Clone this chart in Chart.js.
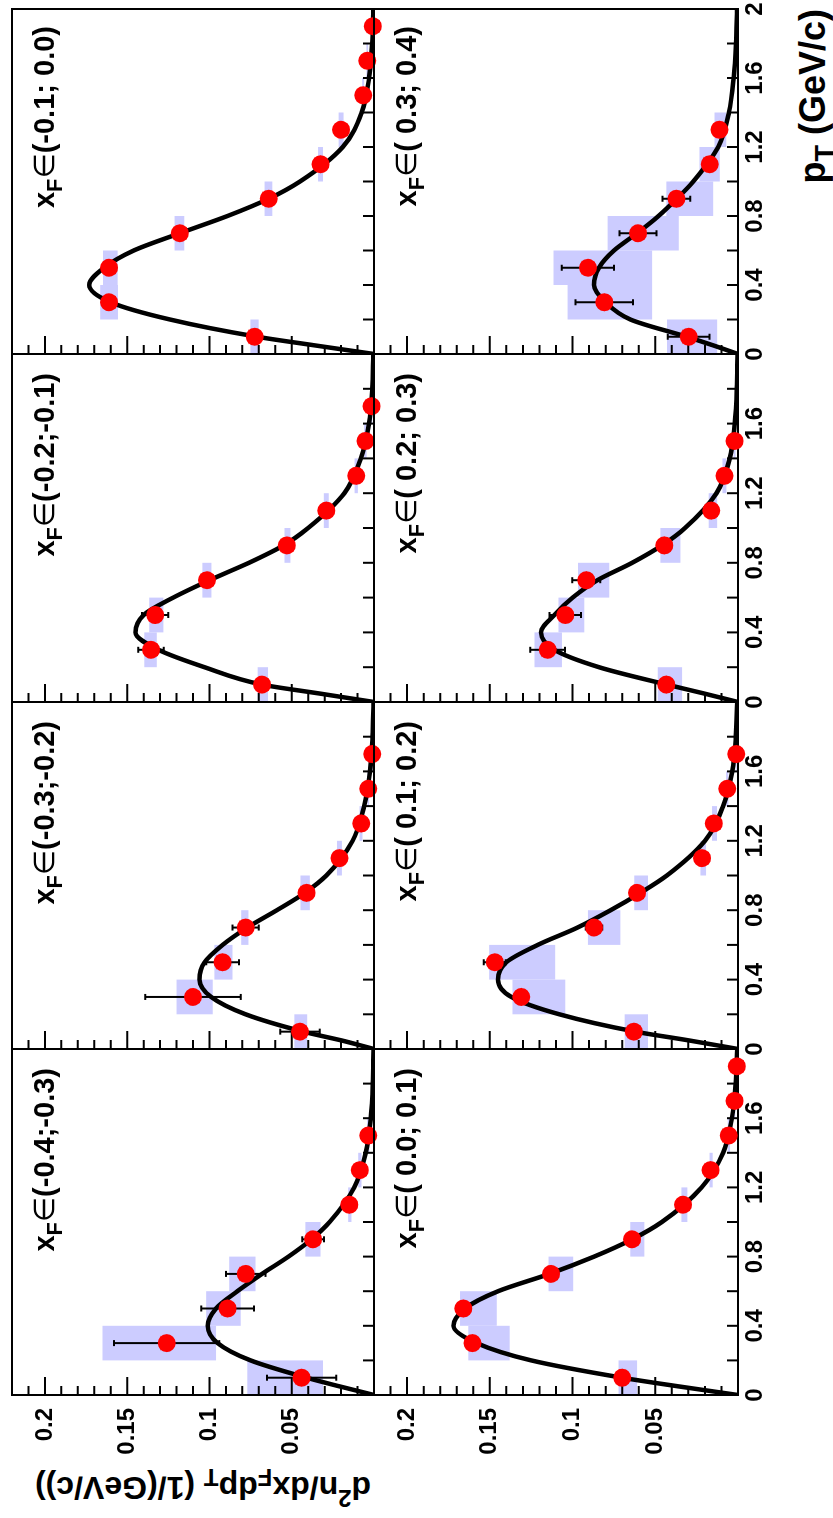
<!DOCTYPE html>
<html>
<head>
<meta charset="utf-8">
<script src="https://cdn.jsdelivr.net/npm/chart.js@4.4.0/dist/chart.umd.min.js"></script>
<style>
  html, body { margin: 0; padding: 0; background: #fff; }
  body { width: 833px; height: 1518px; overflow: hidden; position: relative; }
  /* the figure is laid out landscape and turned a quarter turn */
  #fig { position: absolute; left: 0; top: 0; width: 1518px; height: 833px;
         transform-origin: 0 0; transform: translate(0, 1518px) rotate(-90deg);
         font-family: "Liberation Sans", Arial, sans-serif; font-weight: bold; color: #000; }
  #fig canvas { position: absolute; left: 0; top: 0; }
  .lbl { position: absolute; white-space: pre; font-size: 29px; line-height: 29px; text-align: right; }
  .sym { font-weight: normal; font-family: "DejaVu Sans", sans-serif; }
  sub, sup { font-size: 0.75em; line-height: 0; }
  sub { vertical-align: -0.35em; }
  sup { vertical-align: 0.55em; }
  #ytitle { position: absolute; left: 14px; top: 375px; width: 340px; text-align: right;
            font-size: 32px; line-height: 32px; white-space: nowrap;
            transform-origin: 0 0; transform: rotate(-90deg); }
  #xtitle { position: absolute; right: 9px; top: 795px; font-size: 36px; line-height: 36px; white-space: nowrap; }
</style>
</head>
<body>
<div id="fig">
  <div id="ytitle">d<sup>2</sup>n/dx<sub>F</sub>dp<sub>T</sub> (1/(GeV/c))</div>
  <div id="xtitle">p<sub>T</sub> (GeV/c)</div>
</div>
<script>
// bins and tick labels
const ptCenters = [0.1, 0.3, 0.5, 0.7, 0.9, 1.1, 1.3, 1.5, 1.7, 1.9];
const ptBinHalf = 0.1;
const fitPt = [0, 0.05, 0.1, 0.2, 0.3, 0.4, 0.5, 0.6, 0.7, 0.8, 0.9, 1.0, 1.2, 1.4, 1.6, 1.8, 2.0];
const xfBins = ["(-0.4;-0.3)", "(-0.3;-0.2)", "(-0.2;-0.1)", "(-0.1; 0.0)",
                "( 0.0; 0.1)", "( 0.1; 0.2)", "( 0.2; 0.3)", "( 0.3; 0.4)"];
const ptTickLabels = [0, 0.4, 0.8, 1.2, 1.6];
const ptTickLabelsLast = [0, 0.4, 0.8, 1.2, 1.6, 2];
const valTickLabels = [0.05, 0.1, 0.15, 0.2];

// x_F (-0.4;-0.3)
const val1 = [0.044, 0.126, 0.089, 0.078, 0.037, 0.015, 0.0086, 0.0035];
const stat1 = [0.021, 0.032, 0.016, 0.012, 0.0066, 0.002, 0.0015, 0.001];
const sysLo1 = [0.031, 0.096, 0.081, 0.072, 0.0325, 0.0137, 0.0076, 0.0028];
const sysHi1 = [0.077, 0.165, 0.102, 0.088, 0.0417, 0.0157, 0.0096, 0.0042];
const fit1 = [0, 0.021, 0.041, 0.075, 0.095, 0.101, 0.096, 0.083, 0.068, 0.052, 0.038, 0.027, 0.012, 0.005, 0.002, 0.0007, 0.0003];

// x_F (-0.3;-0.2)
const val2 = [0.045, 0.110, 0.092, 0.078, 0.041, 0.021, 0.0078, 0.0035, 0.0011];
const stat2 = [0.012, 0.029, 0.010, 0.008, 0.003, 0.0015, 0.001, 0.001, 0.0005];
const sysLo2 = [0.0406, 0.098, 0.086, 0.0763, 0.039, 0.0195, 0.007, 0.003, 0.0008];
const sysHi2 = [0.0484, 0.120, 0.097, 0.0807, 0.0447, 0.0225, 0.0088, 0.004, 0.0014];
const fit2 = [0, 0.02, 0.043, 0.078, 0.099, 0.106, 0.103, 0.092, 0.077, 0.059, 0.042, 0.029, 0.013, 0.006, 0.0024, 0.0009, 0.0003];

// x_F (-0.2;-0.1)
const val3 = [0.068, 0.1355, 0.133, 0.1015, 0.053, 0.029, 0.0108, 0.0052, 0.0015];
const stat3 = [0.003, 0.0077, 0.008, 0.003, 0.002, 0.0015, 0.001, 0.001, 0.0005];
const sysLo3 = [0.0644, 0.132, 0.128, 0.0988, 0.0508, 0.0275, 0.0098, 0.0045, 0.0011];
const sysHi3 = [0.0707, 0.1396, 0.1366, 0.1043, 0.0544, 0.0305, 0.0118, 0.006, 0.0019];
const fit3 = [0, 0.034, 0.068, 0.103, 0.131, 0.145, 0.140, 0.122, 0.100, 0.076, 0.055, 0.040, 0.018, 0.008, 0.003, 0.001, 0.0004];

// x_F (-0.1; 0.0)
const val4 = [0.0725, 0.161, 0.161, 0.118, 0.064, 0.0325, 0.020, 0.0066, 0.0041, 0.0007];
const stat4 = [0.002, 0.003, 0.003, 0.002, 0.002, 0.001, 0.001, 0.001, 0.0005, 0.0003];
const sysLo4 = [0.0701, 0.1556, 0.1558, 0.1153, 0.0618, 0.031, 0.0185, 0.006, 0.0036, 0.0004];
const sysHi4 = [0.0751, 0.1664, 0.1647, 0.1212, 0.0665, 0.034, 0.0215, 0.0072, 0.0046, 0.001];
const fit4 = [0, 0.036, 0.071, 0.124, 0.160, 0.173, 0.164, 0.146, 0.118, 0.089, 0.064, 0.045, 0.019, 0.0075, 0.003, 0.0011, 0.0004];

// x_F ( 0.0; 0.1)
const val5 = [0.070, 0.1605, 0.166, 0.113, 0.064, 0.0332, 0.0166, 0.0056, 0.0021, 0.0007];
const stat5 = [0.002, 0.003, 0.003, 0.002, 0.002, 0.001, 0.001, 0.0005, 0.0005, 0.0003];
const sysLo5 = [0.061, 0.138, 0.1458, 0.0996, 0.0566, 0.0306, 0.0153, 0.0048, 0.0017, 0.0004];
const sysHi5 = [0.0722, 0.163, 0.168, 0.1145, 0.0651, 0.0342, 0.0172, 0.0062, 0.0025, 0.001];
const fit5 = [0, 0.036, 0.070, 0.125, 0.158, 0.172, 0.165, 0.145, 0.114, 0.087, 0.064, 0.046, 0.022, 0.009, 0.0037, 0.0014, 0.0005];

// x_F ( 0.1; 0.2)
const val6 = [0.063, 0.131, 0.147, 0.087, 0.061, 0.0217, 0.0146, 0.0065, 0.0011];
const stat6 = [0.002, 0.004, 0.0066, 0.005, 0.002, 0.001, 0.001, 0.0008, 0.0005];
const sysLo6 = [0.0544, 0.1044, 0.1105, 0.0711, 0.0544, 0.0193, 0.0127, 0.0058, 0.0008];
const sysHi6 = [0.0685, 0.1363, 0.1504, 0.0907, 0.0627, 0.0227, 0.0157, 0.0072, 0.0014];
const fit6 = [0, 0.03, 0.062, 0.108, 0.137, 0.145, 0.140, 0.121, 0.097, 0.077, 0.059, 0.043, 0.020, 0.009, 0.0035, 0.0013, 0.0005];

// x_F ( 0.2; 0.3)
const val7 = [0.0433, 0.115, 0.1044, 0.0917, 0.0445, 0.0162, 0.0082, 0.0021];
const stat7 = [0.004, 0.0105, 0.0095, 0.0085, 0.004, 0.001, 0.001, 0.0005];
const sysLo7 = [0.0338, 0.1064, 0.0929, 0.0778, 0.0348, 0.0126, 0.007, 0.0015];
const sysHi7 = [0.0485, 0.123, 0.1085, 0.0967, 0.0469, 0.0177, 0.0094, 0.0027];
const fit7 = [0, 0.021, 0.043, 0.084, 0.111, 0.119, 0.111, 0.100, 0.085, 0.064, 0.046, 0.032, 0.013, 0.005, 0.002, 0.0007, 0.0003];

// x_F ( 0.3; 0.4)
const val8 = [0.0298, 0.0808, 0.0907, 0.0604, 0.0372, 0.0171, 0.0112];
const stat8 = [0.0126, 0.0174, 0.0158, 0.0112, 0.0084, 0.002, 0.0015];
const sysLo8 = [0.0126, 0.0519, 0.0519, 0.0358, 0.015, 0.011, 0.0071];
const sysHi8 = [0.0429, 0.103, 0.1115, 0.0788, 0.0433, 0.0233, 0.0142];
const fit8 = [0, 0.015, 0.031, 0.065, 0.080, 0.087, 0.084, 0.075, 0.061, 0.048, 0.037, 0.027, 0.012, 0.0055, 0.0026, 0.0012, 0.0006];

const panels = [
  { val: val1, stat: stat1, lo: sysLo1, hi: sysHi1, fit: fit1 },
  { val: val2, stat: stat2, lo: sysLo2, hi: sysHi2, fit: fit2 },
  { val: val3, stat: stat3, lo: sysLo3, hi: sysHi3, fit: fit3 },
  { val: val4, stat: stat4, lo: sysLo4, hi: sysHi4, fit: fit4 },
  { val: val5, stat: stat5, lo: sysLo5, hi: sysHi5, fit: fit5 },
  { val: val6, stat: stat6, lo: sysLo6, hi: sysHi6, fit: fit6 },
  { val: val7, stat: stat7, lo: sysLo7, hi: sysHi7, fit: fit7 },
  { val: val8, stat: stat8, lo: sysLo8, hi: sysHi8, fit: fit8 }
];

// layout of the (unrotated) figure
const FIG_W = 1518, FIG_H = 833;
const colEdges = [123, 469, 816, 1164, 1511];
const rowEdges = [12, 374, 738];
const Y_AXIS_W = 100, X_AXIS_H = 60;
const tickFont = { family: "'Liberation Sans', Arial, sans-serif", size: 24, weight: "bold" };

// boxes, frame, inward ticks and error bars
function decor(p) {
  return {
    id: "decor",
    beforeDatasetsDraw(chart) {
      const ctx = chart.ctx, xs = chart.scales.x, ys = chart.scales.y, a = chart.chartArea;
      ctx.save();
      // systematic boxes
      ctx.fillStyle = "#ccccff";
      p.val.forEach((v, i) => {
        const pt = ptCenters[i];
        const xl = xs.getPixelForValue(pt - ptBinHalf), xr = xs.getPixelForValue(pt + ptBinHalf);
        const yt = ys.getPixelForValue(p.hi[i]), yb = ys.getPixelForValue(p.lo[i]);
        ctx.fillRect(xl, yt, xr - xl, yb - yt);
      });
      // frame
      ctx.strokeStyle = "#000";
      ctx.lineWidth = 2;
      ctx.strokeRect(a.left, a.top, a.right - a.left, a.bottom - a.top);
      // value axis ticks (inside, left edge)
      ctx.beginPath();
      for (let k = 1; k <= 21; k++) {
        const y = ys.getPixelForValue(k / 100);
        const len = k % 5 === 0 ? 18 : 9;
        ctx.moveTo(a.left, y);
        ctx.lineTo(a.left + len, y);
      }
      // pT axis ticks (inside, bottom edge)
      for (let k = 1; k <= 9; k++) {
        const x = xs.getPixelForValue(k * 0.2);
        ctx.moveTo(x, a.bottom);
        ctx.lineTo(x, a.bottom - 11);
      }
      ctx.stroke();
      ctx.restore();
    },
    beforeDatasetDraw(chart, args) {
      if (args.index !== 0) return;
      const ctx = chart.ctx, xs = chart.scales.x, ys = chart.scales.y;
      ctx.save();
      ctx.strokeStyle = "#000";
      ctx.lineWidth = 2;
      ctx.beginPath();
      p.val.forEach((v, i) => {
        const x = xs.getPixelForValue(ptCenters[i]);
        const y1 = ys.getPixelForValue(v - p.stat[i]), y2 = ys.getPixelForValue(v + p.stat[i]);
        ctx.moveTo(x, y1); ctx.lineTo(x, y2);
        ctx.moveTo(x - 3, y1); ctx.lineTo(x + 3, y1);
        ctx.moveTo(x - 3, y2); ctx.lineTo(x + 3, y2);
      });
      ctx.stroke();
      ctx.restore();
    }
  };
}

const fig = document.getElementById("fig");

panels.forEach((p, i) => {
  const col = i % 4, row = Math.floor(i / 4);
  const x0 = colEdges[col], x1 = colEdges[col + 1];
  const y0 = rowEdges[row], y1 = rowEdges[row + 1];
  const showY = col === 0, showX = row === 1;
  const canvas = document.createElement("canvas");
  canvas.width = FIG_W;
  canvas.height = FIG_H;
  fig.appendChild(canvas);
  const ptLabels = col === 3 ? ptTickLabelsLast : ptTickLabels;

  new Chart(canvas, {
    type: "scatter",
    data: {
      datasets: [
        {
          data: p.val.map((v, k) => ({ x: ptCenters[k], y: v })),
          pointRadius: 9,
          pointBackgroundColor: "#ff0000",
          pointBorderWidth: 0,
          clip: false
        },
        {
          data: fitPt.map((t, k) => ({ x: t, y: p.fit[k] })),
          showLine: true,
          borderColor: "#000",
          borderWidth: 4.5,
          pointRadius: 0,
          cubicInterpolationMode: "monotone"
        }
      ]
    },
    options: {
      responsive: false,
      animation: false,
      devicePixelRatio: 1,
      events: [],
      layout: {
        padding: {
          left: showY ? x0 - Y_AXIS_W : x0,
          right: FIG_W - x1,
          top: y0,
          bottom: showX ? FIG_H - y1 - X_AXIS_H : FIG_H - y1
        }
      },
      plugins: { legend: { display: false }, tooltip: { enabled: false } },
      scales: {
        x: {
          type: "linear", min: 0, max: 2,
          display: showX,
          grid: { display: false, drawTicks: false },
          border: { display: false },
          afterFit: s => {
            if (!showX) return;
            s.height = X_AXIS_H; s.paddingLeft = 0; s.paddingRight = 0;
          },
          afterBuildTicks: s => { s.ticks = ptLabels.map(v => ({ value: v })); },
          ticks: { autoSkip: false, maxRotation: 0, padding: 3, color: "#000", font: tickFont,
                   callback: v => String(v) }
        },
        y: {
          type: "linear", min: 0, max: 0.22,
          display: showY,
          grid: { display: false, drawTicks: false },
          border: { display: false },
          afterFit: s => {
            if (!showY) return;
            s.width = Y_AXIS_W; s.paddingTop = 0; s.paddingBottom = 0;
          },
          afterBuildTicks: s => { s.ticks = valTickLabels.map(v => ({ value: v })); },
          ticks: { autoSkip: false, padding: 13, color: "#000", font: tickFont,
                   callback: v => String(v) }
        }
      }
    },
    plugins: [decor(p)]
  });

  const lab = document.createElement("div");
  lab.className = "lbl";
  lab.style.left = x0 + "px";
  lab.style.width = (x1 - x0 - 19) + "px";
  lab.style.top = (y0 + 18) + "px";
  lab.innerHTML = 'x<sub>F</sub><span class="sym">\u2208</span>' + xfBins[i];
  fig.appendChild(lab);
});
</script>
</body>
</html>
